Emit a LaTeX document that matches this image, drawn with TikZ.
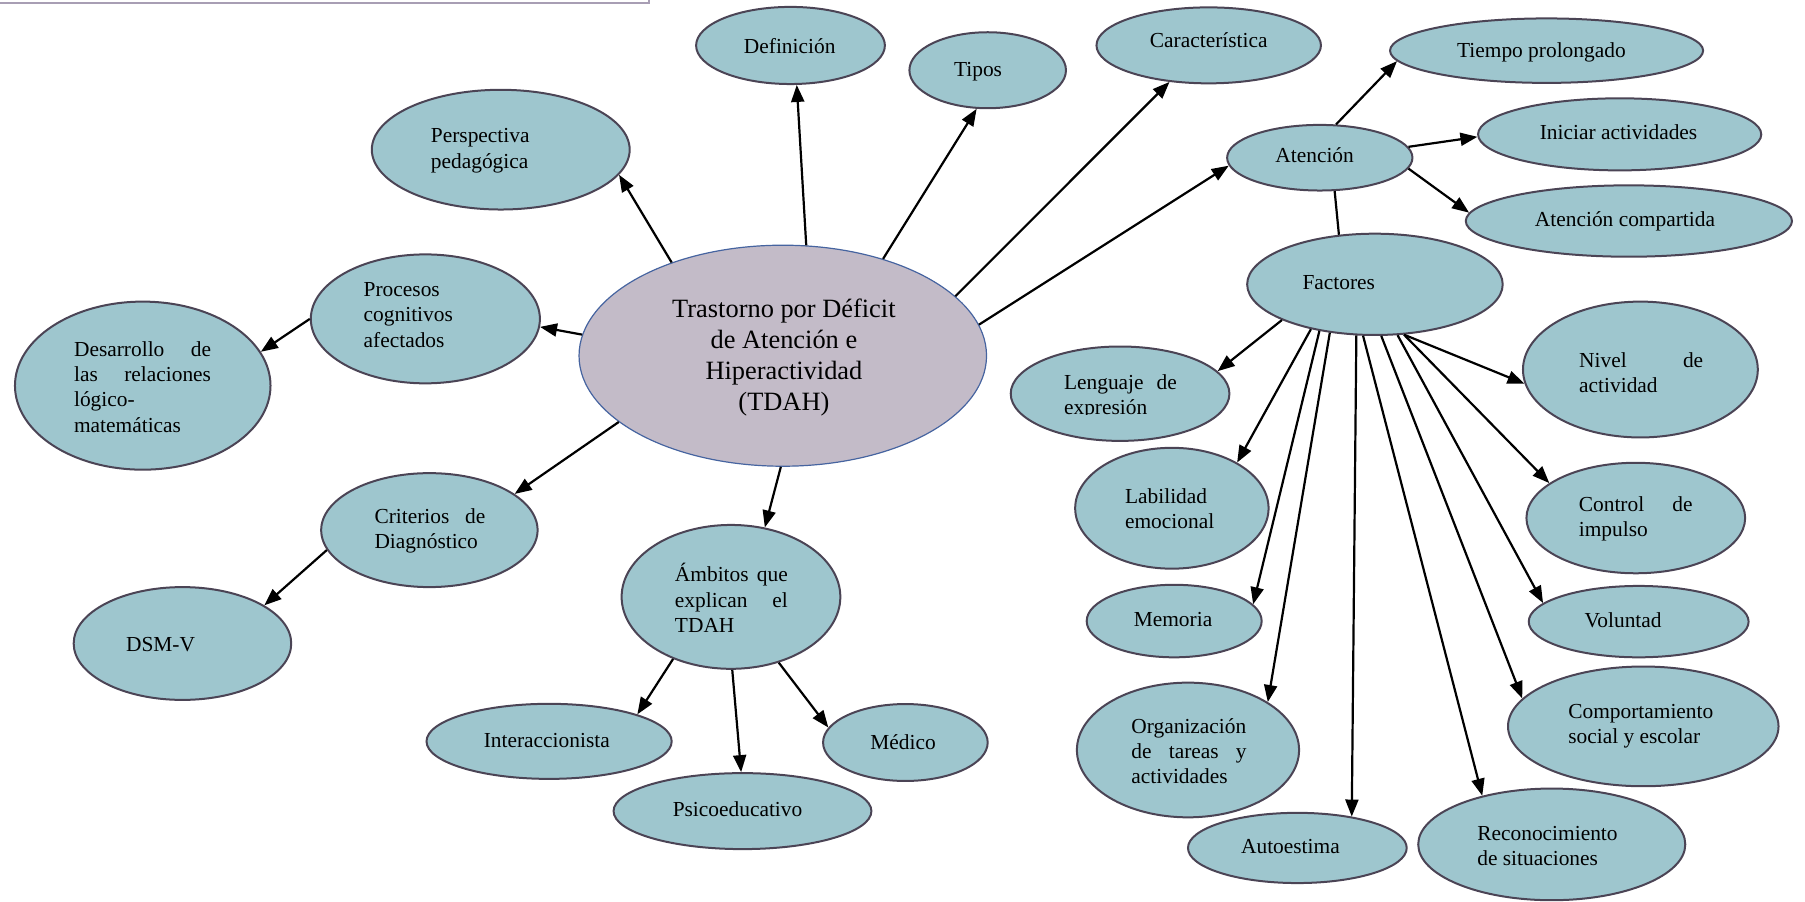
\documentclass[tikz,border=0pt]{standalone}
\usepackage{fontspec}
\setmainfont{Liberation Serif}
\usetikzlibrary{shapes.geometric,arrows.meta}
\definecolor{bubfill}{RGB}{158,198,206}
\definecolor{bubline}{RGB}{75,68,85}
\definecolor{corefill}{RGB}{195,187,200}
\definecolor{coreline}{RGB}{70,100,160}
\definecolor{framec}{RGB}{168,158,180}
\begin{document}
\begin{tikzpicture}[x=0.5756pt, y=-0.5756pt,
  bub/.style 2 args={ellipse, draw=bubline, fill=bubfill, line width=1pt,
    minimum width=1.1512pt*#1, minimum height=1.1512pt*#2, inner sep=0pt},
  txt/.style={inner sep=0pt, font=\fontsize{10.7pt}{12.65pt}\selectfont, align=left},
  one/.style={txt, text height=0.69em, text depth=0.22em},
  arr/.style={line width=1.1pt, -{Triangle[length=8.5pt,width=6.5pt]}},
  link/.style={line width=1.1pt}]
\useasboundingbox (0,0) rectangle (1568,783);

% frame edge in the upper left corner
\draw[framec, line width=1.1pt] (-5,2.9) -- (564,2.9) -- (564,-5);

% bubbles
\node[bub={177}{96}, fill=corefill, draw=coreline, line width=0.6pt] (tdah) at (680,309) {};
\node[bub={112}{52}] (persp) at (435,130) {};
\node[bub={82}{33.5}] (defi) at (686.7,39.5) {};
\node[bub={68}{33}] (tipos) at (858,61) {};
\node[bub={97.5}{33}] (carac) at (1050,39.4) {};
\node[bub={136}{28}] (tiempo) at (1343.5,44) {};
\node[bub={123}{31.3}] (iniciar) at (1407,116.7) {};
\node[bub={80.5}{28.5}] (atenc) at (1146.5,137) {};
\node[bub={141.7}{31}] (atcomp) at (1415,192) {};
\node[bub={111}{44}] (factores) at (1194.4,247) {};
\node[bub={102}{59}] (nivel) at (1425,321) {};
\node[bub={95}{41}] (lenguaje) at (973,342) {};
\node[bub={84}{52.5}] (labil) at (1018,441.5) {};
\node[bub={95}{48}] (control) at (1421,450) {};
\node[bub={76}{31.5}] (memoria) at (1020,539.5) {};
\node[bub={95.5}{31}] (voluntad) at (1423.5,540) {};
\node[bub={96.5}{58.5}] (organiz) at (1032,651.5) {};
\node[bub={117.5}{52}] (comport) at (1427.5,631) {};
\node[bub={95}{30.5}] (autoest) at (1127,736.6) {};
\node[bub={116}{48.5}] (recono) at (1348,733.5) {};
\node[bub={99.5}{56}] (procesos) at (369.5,277) {};
\node[bub={111}{73}] (desarr) at (124,335) {};
\node[bub={94}{49.5}] (criter) at (373,460.5) {};
\node[bub={94.5}{49}] (dsm) at (158.5,559) {};
\node[bub={95}{62.5}] (ambitos) at (635,518.5) {};
\node[bub={106.5}{32.6}] (interac) at (477,644) {};
\node[bub={112}{33}] (psico) at (645,704.6) {};
\node[bub={71.5}{33.4}] (medico) at (786.5,645) {};

% labels
\node[txt, align=center, font=\fontsize{13.2pt}{15.5pt}\selectfont] (tdah-t) at (681,310.5)
  {Trastorno por Déficit\\de Atención e\\Hiperactividad\\(TDAH)};
\node[txt, anchor=west] (persp-t) at (374,131) {Perspectiva\\pedagógica};
\node[one] (defi-t) at (686,42) {Definición};
\node[one] (tipos-t) at (849.6,62.3) {Tipos};
\node[one] (carac-t) at (1050,37.6) {Característica};
\node[one] (tiempo-t) at (1339,46) {Tiempo prolongado};
\node[one] (iniciar-t) at (1406,117) {Iniciar actividades};
\node[one] (atenc-t) at (1142,137.5) {Atención};
\node[one] (atcomp-t) at (1411.6,192.6) {Atención compartida};
\node[one] (factores-t) at (1163,247.6) {Factores};
\node[txt, anchor=west] (nivel-t) at (1371.5,323.5) {\makebox[62pt][s]{Nivel de}\\actividad};
\begin{scope}
  \clip (900,300) rectangle (1060,360);
  \node[txt, anchor=west] (lenguaje-t) at (924,344.5) {\makebox[56.4pt][s]{Lenguaje de}\\expresión};
\end{scope}
\node[txt, anchor=west] (labil-t) at (977,442) {Labilidad\\emocional};
\node[txt, anchor=west] (control-t) at (1371.2,451) {\makebox[56.9pt][s]{Control de}\\impulso};
\node[one] (memoria-t) at (1019,540) {Memoria};
\node[one] (voluntad-t) at (1410,541) {Voluntad};
\node[txt, anchor=west] (organiz-t) at (982.5,652.5) {Organización\\\makebox[57.6pt][s]{de tareas y}\\actividades};
\node[txt, anchor=west] (comport-t) at (1362,631) {Comportamiento\\social y escolar};
\node[one] (autoest-t) at (1121,737.6) {Autoestima};
\node[txt, anchor=west] (recono-t) at (1283,735) {Reconocimiento\\de situaciones};
\node[txt, anchor=west] (procesos-t) at (315.6,273.5) {Procesos\\cognitivos\\afectados};
\node[txt, anchor=west] (desarr-t) at (64,336) {\makebox[68.5pt][s]{Desarrollo de}\\\makebox[68.5pt][s]{las relaciones}\\lógico-\\matemáticas};
\node[txt, anchor=west] (criter-t) at (325,461) {\makebox[55.4pt][s]{Criterios de}\\Diagnóstico};
\node[one] (dsm-t) at (139.5,561.7) {DSM-V};
\node[txt, anchor=west] (ambitos-t) at (586,519.5) {\makebox[56.4pt][s]{Ámbitos que}\\\makebox[56.4pt][s]{explican el}\\TDAH};
\node[one] (interac-t) at (475,645) {Interaccionista};
\node[one] (psico-t) at (640.7,705) {Psicoeducativo};
\node[one] (medico-t) at (784.5,647) {Médico};

% connectors from the central bubble
\draw[arr] (tdah.140) -- (persp.-12.7);
\draw[arr] (tdah.78.7) -- (defi.-81.6);
\draw[arr] (tdah.44.3) -- (tipos.254.6);
\draw[arr] (tdah.19.5) -- (carac.223.7);
\draw[arr] (tdah.9.4) -- (atenc.185.7);
\draw[arr] (tdah.174.5) -- (procesos.-4.4);
\draw[arr] (procesos.180) -- (desarr.16.6);
\draw[arr] (tdah.202.5) -- (criter.23.3);
\draw[arr] (criter.191.5) -- (dsm.25.1);
\draw[arr] (tdah.269.4) -- (ambitos.64.2);
\draw[arr] (ambitos.227.8) -- (interac.17.3);
\draw[arr] (ambitos.271) -- (psico.92);
\draw[arr] (ambitos.306.6) -- (medico.169.2);

% attention branch
\draw[arr] (atenc.64) -- (tiempo.184.1);
\draw[arr] (atenc.7.2) -- (iniciar.181);
\draw[arr] (atenc.-7.5) -- (atcomp.177.9);
\draw[link] (atenc.-66) -- (factores.126.5);

% factors fan
\draw[arr] (factores.201.7) -- (lenguaje.13.2);
\draw[arr] (factores.215.9) -- (labil.35.9);
\draw[arr] (factores.220.8) -- (memoria.12.2);
\draw[arr] (factores.227.1) -- (organiz.31.6);
\draw[arr] (factores.250.5) -- (autoest.30.1);
\draw[arr] (factores.257.9) -- (recono.145.7);
\draw[arr] (factores.277.3) -- (comport.167);
\draw[arr] (factores.294.4) -- (voluntad.169.1);
\draw[arr] (factores.300.9) -- (control.158.7);
\draw[arr] (factores.300.9) -- (nivel.187.6);
\end{tikzpicture}
\end{document}
